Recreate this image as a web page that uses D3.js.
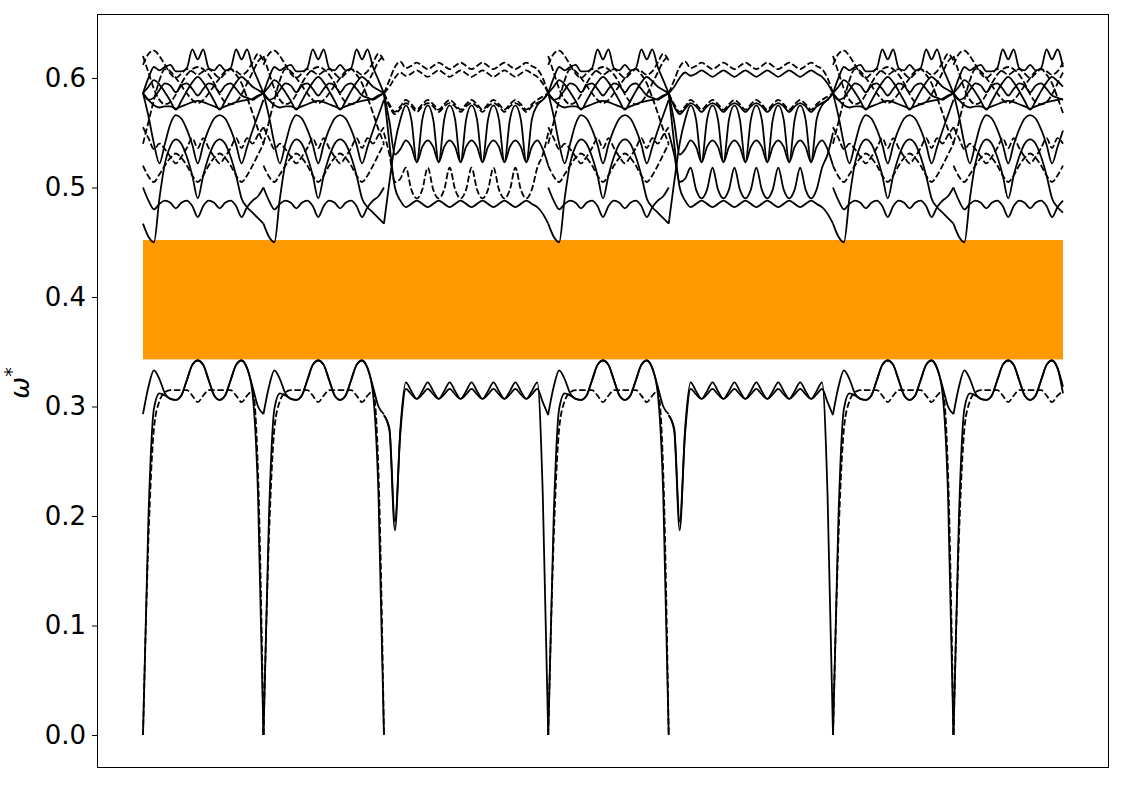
<!DOCTYPE html>
<html>
<head>
<meta charset="utf-8">
<script src="https://cdn.jsdelivr.net/npm/d3@7"></script>
<style>
  body { margin: 0; background: #fff; }
  text { font-family: "DejaVu Sans", sans-serif; }
</style>
</head>
<body>
<svg id="chart" width="1125" height="785"></svg>
<script>
// path through the zone: shape of each leg and its number of k steps
const segShape = ['A', 'A', 'B', 'A', 'B', 'A', 'A']
const segSteps = [22, 22, 30, 22, 30, 22, 20]

const yTicks = [0.0, 0.1, 0.2, 0.3, 0.4, 0.5, 0.6]
const gap = [0.343, 0.452]

// ---- leg type A, 23 k points ----
const aL1 = [0.293, 0.318, 0.333, 0.325, 0.312, 0.307, 0.306, 0.310, 0.324, 0.338, 0.342, 0.338, 0.324, 0.310, 0.306, 0.310, 0.324, 0.338, 0.342, 0.335, 0.318, 0.300, 0.293]
const aL2 = [0, 0.180, 0.280, 0.305, 0.313, 0.315, 0.315, 0.315, 0.315, 0.310, 0.304, 0.310, 0.315, 0.315, 0.315, 0.315, 0.315, 0.310, 0.304, 0.310, 0.314, 0.240, 0]
const aL3 = [0, 0.200, 0.298, 0.312, 0.310, 0.307, 0.306, 0.310, 0.324, 0.338, 0.342, 0.338, 0.324, 0.310, 0.306, 0.310, 0.324, 0.338, 0.342, 0.335, 0.312, 0.220, 0]
const aT1 = [0.586, 0.600, 0.610, 0.607, 0.610, 0.612, 0.606, 0.606, 0.609, 0.626, 0.617, 0.626, 0.609, 0.607, 0.612, 0.607, 0.609, 0.626, 0.617, 0.626, 0.610, 0.598, 0.586]
const aT2 = [0.612, 0.622, 0.625, 0.620, 0.612, 0.604, 0.600, 0.604, 0.608, 0.606, 0.603, 0.606, 0.608, 0.604, 0.600, 0.604, 0.608, 0.606, 0.603, 0.606, 0.614, 0.622, 0.616]
const aH1 = [0.586, 0.592, 0.598, 0.594, 0.587, 0.579, 0.571, 0.579, 0.588, 0.596, 0.601, 0.596, 0.588, 0.579, 0.571, 0.579, 0.588, 0.596, 0.601, 0.597, 0.592, 0.589, 0.586]
const aH2 = [0.586, 0.580, 0.582, 0.589, 0.595, 0.593, 0.587, 0.593, 0.595, 0.590, 0.584, 0.590, 0.595, 0.593, 0.587, 0.593, 0.595, 0.590, 0.584, 0.582, 0.580, 0.583, 0.586]
const aM = [0.586, 0.580, 0.575, 0.573, 0.574, 0.574, 0.572, 0.574, 0.576, 0.578, 0.579, 0.578, 0.576, 0.574, 0.572, 0.574, 0.576, 0.578, 0.579, 0.580, 0.581, 0.584, 0.586]
const aS5 = [0.586, 0.565, 0.540, 0.522, 0.540, 0.558, 0.566, 0.563, 0.553, 0.539, 0.522, 0.539, 0.553, 0.563, 0.566, 0.563, 0.553, 0.539, 0.522, 0.537, 0.552, 0.566, 0.580]
const aS6 = [0.467, 0.455, 0.450, 0.490, 0.522, 0.538, 0.544, 0.540, 0.528, 0.511, 0.490, 0.511, 0.528, 0.540, 0.544, 0.540, 0.528, 0.511, 0.490, 0.482, 0.477, 0.472, 0.467]
const aR = [0.500, 0.488, 0.480, 0.485, 0.488, 0.486, 0.481, 0.486, 0.488, 0.483, 0.473, 0.483, 0.488, 0.486, 0.481, 0.486, 0.488, 0.483, 0.473, 0.482, 0.488, 0.492, 0.500]
const aD1 = [0.555, 0.545, 0.535, 0.540, 0.535, 0.528, 0.522, 0.528, 0.536, 0.545, 0.536, 0.545, 0.536, 0.528, 0.522, 0.528, 0.536, 0.545, 0.536, 0.545, 0.540, 0.548, 0.555]
const aD2 = [0.520, 0.510, 0.505, 0.512, 0.520, 0.527, 0.531, 0.527, 0.520, 0.511, 0.505, 0.511, 0.520, 0.527, 0.531, 0.527, 0.520, 0.511, 0.505, 0.511, 0.520, 0.530, 0.540]
const aD3 = [0.620, 0.605, 0.590, 0.580, 0.576, 0.578, 0.585, 0.595, 0.603, 0.608, 0.610, 0.608, 0.603, 0.595, 0.585, 0.578, 0.576, 0.578, 0.585, 0.595, 0.605, 0.615, 0.620]
const aD4 = [0.540, 0.560, 0.580, 0.598, 0.608, 0.606, 0.600, 0.593, 0.586, 0.580, 0.577, 0.580, 0.586, 0.593, 0.600, 0.606, 0.608, 0.603, 0.595, 0.582, 0.568, 0.553, 0.540]

// ---- leg type B, 31 k points ----
const bL1 = [0.292, 0.278, 0.187, 0.280, 0.322, 0.314, 0.307, 0.314, 0.322, 0.314, 0.307, 0.314, 0.322, 0.314, 0.307, 0.314, 0.322, 0.314, 0.307, 0.314, 0.322, 0.314, 0.307, 0.314, 0.322, 0.314, 0.307, 0.314, 0.322, 0.220, 0]
const bL2 = [0.292, 0.280, 0.195, 0.276, 0.316, 0.311, 0.307, 0.311, 0.316, 0.311, 0.307, 0.311, 0.316, 0.311, 0.307, 0.311, 0.316, 0.311, 0.307, 0.311, 0.316, 0.311, 0.307, 0.311, 0.316, 0.311, 0.307, 0.311, 0.316, 0.304, 0.292]
const bU1 = [0.586, 0.598, 0.610, 0.615, 0.609, 0.611, 0.614, 0.611, 0.608, 0.611, 0.614, 0.611, 0.608, 0.611, 0.614, 0.611, 0.608, 0.611, 0.614, 0.611, 0.608, 0.611, 0.614, 0.611, 0.608, 0.611, 0.614, 0.611, 0.608, 0.600, 0.586]
const bU2 = [0.586, 0.592, 0.600, 0.605, 0.602, 0.604, 0.607, 0.604, 0.601, 0.604, 0.607, 0.604, 0.601, 0.604, 0.607, 0.604, 0.601, 0.604, 0.607, 0.604, 0.601, 0.604, 0.607, 0.604, 0.601, 0.604, 0.607, 0.604, 0.601, 0.595, 0.586]
const bU3 = [0.586, 0.576, 0.569, 0.574, 0.580, 0.576, 0.571, 0.576, 0.580, 0.576, 0.571, 0.576, 0.580, 0.576, 0.571, 0.576, 0.580, 0.576, 0.571, 0.576, 0.580, 0.576, 0.571, 0.576, 0.580, 0.576, 0.571, 0.576, 0.580, 0.583, 0.586]
const bU4 = [0.586, 0.574, 0.567, 0.572, 0.577, 0.574, 0.569, 0.574, 0.577, 0.574, 0.569, 0.574, 0.577, 0.574, 0.569, 0.574, 0.577, 0.574, 0.569, 0.574, 0.577, 0.574, 0.569, 0.574, 0.577, 0.574, 0.569, 0.574, 0.577, 0.580, 0.586]
const bS1 = [0.467, 0.505, 0.540, 0.562, 0.575, 0.562, 0.523, 0.562, 0.575, 0.562, 0.523, 0.562, 0.575, 0.562, 0.523, 0.562, 0.575, 0.562, 0.523, 0.562, 0.575, 0.562, 0.523, 0.562, 0.575, 0.562, 0.523, 0.562, 0.575, 0.580, 0.586]
const bS2 = [0.586, 0.560, 0.530, 0.535, 0.543, 0.537, 0.523, 0.537, 0.543, 0.537, 0.523, 0.537, 0.543, 0.537, 0.523, 0.537, 0.543, 0.537, 0.523, 0.537, 0.543, 0.537, 0.523, 0.537, 0.543, 0.537, 0.523, 0.537, 0.543, 0.535, 0.520]
const bD1 = [0.550, 0.530, 0.505, 0.508, 0.518, 0.498, 0.490, 0.498, 0.518, 0.498, 0.490, 0.498, 0.518, 0.498, 0.490, 0.498, 0.518, 0.498, 0.490, 0.498, 0.518, 0.498, 0.490, 0.498, 0.518, 0.498, 0.490, 0.498, 0.518, 0.530, 0.550]
const bS3 = [0.586, 0.540, 0.500, 0.488, 0.482, 0.485, 0.488, 0.485, 0.482, 0.485, 0.488, 0.485, 0.482, 0.485, 0.488, 0.485, 0.482, 0.485, 0.488, 0.485, 0.482, 0.485, 0.488, 0.485, 0.482, 0.485, 0.488, 0.485, 0.482, 0.476, 0.467]

const shapes = {
  A: {aL1, aL2, aL3, aT1, aT2, aH1, aH2, aM, aS5, aS6, aR, aD1, aD2, aD3, aD4},
  B: {bL1, bL2, bU1, bU2, bU3, bU4, bS1, bS2, bD1, bS3},
}
// which bands are dashed, and the legs where some of them turn solid
const dashedBands = ['aL2', 'aT2', 'aD1', 'aD2', 'aD3', 'aD4', 'bU1', 'bU2', 'bU3', 'bU4', 'bD1']
const solidInLeg = {4: ['bU2', 'bU4', 'bD1']}

const W = 1125, H = 785
const margin = {left: 97, right: 16, top: 14, bottom: 17}
const kTotal = d3.sum(segSteps)

const svg = d3.select('#chart')
const x = d3.scaleLinear()
  .domain([-0.05 * kTotal, 1.05 * kTotal])
  .range([margin.left, W - margin.right])
const y = d3.scaleLinear()
  .domain([-0.0301, 0.6584])
  .range([H - margin.bottom, margin.top])

// band gap
svg.append('rect')
  .attr('x', x(0)).attr('width', x(kTotal) - x(0))
  .attr('y', y(gap[1])).attr('height', y(gap[0]) - y(gap[1]))
  .style('fill', '#fe9a00')

const line = d3.line()
  .x(d => x(d[0]))
  .y(d => y(d[1]))
  .curve(d3.curveMonotoneX)

const g = svg.append('g')
let k0 = 0
segShape.forEach((shape, s) => {
  const n = segSteps[s]
  Object.entries(shapes[shape]).forEach(([name, vals]) => {
    const pts = vals.slice(0, n + 1).map((w, i) => [k0 + i, w])
    const dashed = dashedBands.includes(name) && !(solidInLeg[s] || []).includes(name)
    g.append('path')
      .datum(pts)
      .attr('d', line)
      .style('fill', 'none')
      .style('stroke', '#000')
      .style('stroke-width', 1.8)
      .style('stroke-dasharray', dashed ? '6.5,2.6' : null)
  })
  k0 += n
})

// y axis
const yAxis = svg.append('g')
  .attr('transform', `translate(${margin.left},0)`)
  .call(d3.axisLeft(y).tickValues(yTicks).tickFormat(d3.format('.1f')).tickSize(5).tickPadding(6))
yAxis.select('.domain').remove()
yAxis.selectAll('line').style('stroke', '#000').style('stroke-width', 1)
yAxis.selectAll('text').style('font-size', '26px').style('fill', '#000')
  .style('font-family', '"DejaVu Sans", sans-serif')

// frame
svg.append('rect')
  .attr('x', margin.left + 0.5).attr('y', margin.top + 0.5)
  .attr('width', W - margin.left - margin.right - 1)
  .attr('height', H - margin.top - margin.bottom - 1)
  .style('fill', 'none').style('stroke', '#000').style('stroke-width', 1)

// y label
const lab = svg.append('text')
  .attr('transform', 'translate(29,383) rotate(-90)')
  .attr('text-anchor', 'middle')
  .style('font-size', '26px')
lab.append('tspan').text('ω').style('font-style', 'italic')
lab.append('tspan').text('*').attr('dy', -11).style('font-size', '19px')
</script>
</body>
</html>
